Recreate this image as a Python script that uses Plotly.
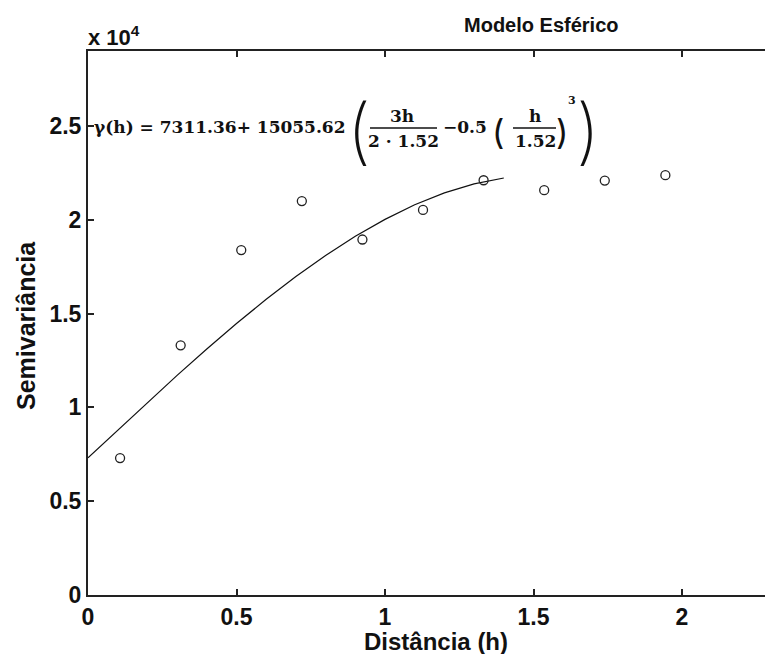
import plotly.graph_objects as go

# ---- data ----
lag_h = [0.108, 0.312, 0.516, 0.720, 0.924, 1.128, 1.332, 1.536, 1.740, 1.944]
semivar = [7300, 13310, 18390, 21000, 18950, 20530, 22110, 21580, 22090, 22380]

model_h = [0.0, 0.1, 0.2, 0.3, 0.4, 0.5, 0.6, 0.7, 0.8, 0.9, 1.0, 1.1, 1.2, 1.3, 1.4]
model_gamma = [7311, 8795, 10266, 11711, 13117, 14472, 15763, 16976, 18100,
               19121, 20025, 20802, 21436, 21917, 22230]

x_tickvals = [0, 0.5, 1, 1.5, 2]
x_ticktext = ["0", "0.5", "1", "1.5", "2"]
y_tickvals = [0, 5000, 10000, 15000, 20000, 25000]
y_ticktext = ["0", "0.5", "1", "1.5", "2", "2.5"]

# ---- geometry (page pixels; the page body adds an 8px margin) ----
OFF = 8
WIDTH, HEIGHT = 773 - OFF, 654 - OFF
L, R, T, B = 88, 773, 51, 595          # plot area in page pixels
W, H = R - L, B - T


def px(x):
    return (x - L) / W


def py(y):
    return (B - y) / H


fig = go.Figure()
fig.add_trace(go.Scatter(x=model_h, y=model_gamma, mode="lines",
                         line=dict(color="#111", width=1.2), showlegend=False))
fig.add_trace(go.Scatter(x=lag_h, y=semivar, mode="markers",
                         marker=dict(symbol="circle-open", size=9,
                                     color="#222", line=dict(width=1.3)),
                         showlegend=False))

sans = "Liberation Sans"
serif = "DejaVu Serif"
tickfont = dict(family=sans, size=23, color="#111", weight="bold")

fig.update_layout(
    width=WIDTH, height=HEIGHT,
    margin=dict(l=L - OFF, r=0, t=T - OFF, b=HEIGHT - (B - OFF)),
    paper_bgcolor="white", plot_bgcolor="white",
    xaxis=dict(range=[0, W / 297.0], tickvals=x_tickvals, ticktext=x_ticktext,
               ticks="inside", ticklen=6, tickwidth=1.5, tickcolor="#222",
               showline=True, linecolor="#222", linewidth=2, mirror="ticks",
               showgrid=False, zeroline=False, tickfont=tickfont),
    yaxis=dict(range=[0, 29000], tickvals=y_tickvals, ticktext=y_ticktext,
               ticks="inside", ticklen=6, tickwidth=1.5, tickcolor="#222",
               showline=True, linecolor="#222", linewidth=2, mirror=False,
               showgrid=False, zeroline=False, tickfont=tickfont),
)


def ann(text, x, y, size, family=serif, xanchor="center", yanchor="middle",
        weight="bold", angle=0):
    fig.add_annotation(text=text, x=px(x), y=py(y), xref="paper", yref="paper",
                       xanchor=xanchor, yanchor=yanchor, showarrow=False,
                       textangle=angle,
                       font=dict(family=family, size=size, color="#111",
                                 weight=weight))


# titles
ann("Modelo Esférico", 541, 25, 20, family=sans)
ann("x 10<sup>4</sup>", 86, 36, 22, family=sans, xanchor="left")
ann("Distância (h)", 436, 641, 24, family=sans)
ann("Semivariância", 26, 326, 25, family=sans, angle=-90)

# equation
paren = "Inter"
ann("γ(h) = 7311.36+ 15055.62", 92, 127, 17, xanchor="left")
ann("(", 359, 129, 72, family=paren, weight=200)
ann("3h", 402, 116, 17)
ann("2 · 1.52", 403, 141, 17)
ann("−0.5", 441, 127, 17, xanchor="left")
ann("(", 498, 131, 34, family=paren, weight=400)
ann("h", 535, 116, 17)
ann("1.52", 535, 141, 17)
ann(")", 562, 131, 34, family=paren, weight=400)
ann("3", 572, 100, 11)
ann(")", 588, 129, 72, family=paren, weight=200)

for x0, x1 in [(370, 437), (513, 556)]:
    fig.add_shape(type="line", xref="paper", yref="paper",
                  x0=px(x0), x1=px(x1), y0=py(128), y1=py(128),
                  line=dict(color="#111", width=1.6))

fig.write_html("out.html")
